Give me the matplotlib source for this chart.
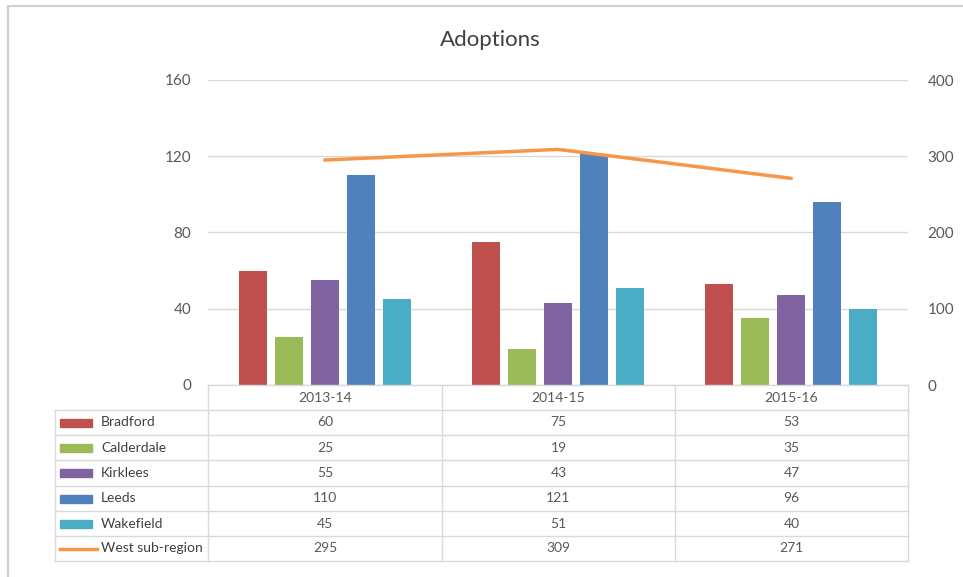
import numpy as np
import matplotlib.pyplot as plt

plt.rcParams['font.family'] = ['Lato', 'DejaVu Sans']

years = ["2013-14", "2014-15", "2015-16"]
areas = ["Bradford", "Calderdale", "Kirklees", "Leeds", "Wakefield"]
bradford = [60, 75, 53]
calderdale = [25, 19, 35]
kirklees = [55, 43, 47]
leeds = [110, 121, 96]
wakefield = [45, 51, 40]
west = [295, 309, 271]
west_name = "West sub-region"

bar_series = [bradford, calderdale, kirklees, leeds, wakefield]
colors = ["#C0504D", "#9BBB59", "#8064A2", "#4F81BD", "#4BACC6"]
line_color = "#F79646"
grid_c = "#D9D9D9"
txt_c = "#595959"

W, H = 963, 577
fig = plt.figure(figsize=(W / 100, H / 100), dpi=100)

def fx(px):
    return px / W

def fy(py):
    return 1 - py / H

# plot area
left, right, top, bottom = 208, 908, 80, 385
ax = fig.add_axes([fx(left), fy(bottom), fx(right - left), fy(top) - fy(bottom)])
x = np.arange(len(years))
step, width = 0.154, 0.12
for i, (vals, c) in enumerate(zip(bar_series, colors)):
    ax.bar(x + (i - 2) * step, vals, width=width, color=c, zorder=3)
ax.set_xlim(-0.5, len(years) - 0.5)
ax.set_ylim(0, 160)
ax.set_yticks([0, 40, 80, 120, 160])
ax.yaxis.grid(True, color=grid_c, linewidth=1, zorder=0)
ax.set_xticks([])
for s in ax.spines.values():
    s.set_visible(False)
ax.tick_params(axis='y', length=0, pad=12, labelsize=11, labelcolor=txt_c)

ax2 = ax.twinx()
ax2.plot(x, west, color=line_color, linewidth=2.5, solid_capstyle='round', zorder=4)
ax2.set_ylim(0, 400)
ax2.set_yticks([0, 100, 200, 300, 400])
for s in ax2.spines.values():
    s.set_visible(False)
ax2.tick_params(axis='y', length=0, pad=14, labelsize=11, labelcolor=txt_c)

fig.text(fx(490), fy(40), "Adoptions", ha='center', va='center', fontsize=16, color="#404040")

# data table
rows_y = [385, 410, 435, 460, 486, 511, 536, 561]
cols_x = [55, 208, 442, 675, 908]
line_kw = dict(color=grid_c, linewidth=1, transform=fig.transFigure)
fig.add_artist(plt.Line2D([fx(208), fx(908)], [fy(385), fy(385)], **line_kw))
for yy in rows_y[1:]:
    fig.add_artist(plt.Line2D([fx(55), fx(908)], [fy(yy), fy(yy)], **line_kw))
for xx in cols_x[1:]:
    fig.add_artist(plt.Line2D([fx(xx), fx(xx)], [fy(385), fy(561)], **line_kw))
fig.add_artist(plt.Line2D([fx(55), fx(55)], [fy(410), fy(561)], **line_kw))

for j, yr in enumerate(years):
    cx = (cols_x[j + 1] + cols_x[j + 2]) / 2
    fig.text(fx(cx), fy(397.5), yr, ha='center', va='center', fontsize=10, color=txt_c)

names = areas + [west_name]
all_vals = bar_series + [west]
keys = colors + [line_color]
for r, (name, vals, c) in enumerate(zip(names, all_vals, keys)):
    cy = (rows_y[r + 1] + rows_y[r + 2]) / 2
    if r < len(areas):
        fig.add_artist(plt.Rectangle((fx(60), fy(cy + 4)), fx(32), fy(cy - 4) - fy(cy + 4),
                                     color=c, transform=fig.transFigure))
    else:
        fig.add_artist(plt.Line2D([fx(60), fx(97)], [fy(cy), fy(cy)], color=c,
                                  linewidth=2.5, transform=fig.transFigure))
    fig.text(fx(101), fy(cy), name, ha='left', va='center', fontsize=10, color="#404040")
    for j, v in enumerate(vals):
        cx = (cols_x[j + 1] + cols_x[j + 2]) / 2
        fig.text(fx(cx), fy(cy), str(v), ha='center', va='center', fontsize=10, color=txt_c)

# chart frame
fig.add_artist(plt.Line2D([fx(8), fx(963)], [fy(6), fy(6)], color="#D0D0D0", linewidth=1.5,
                          transform=fig.transFigure))
fig.add_artist(plt.Line2D([fx(8), fx(8)], [fy(6), fy(577)], color="#D0D0D0", linewidth=1.5,
                          transform=fig.transFigure))

fig.savefig("out.png", dpi=100)
